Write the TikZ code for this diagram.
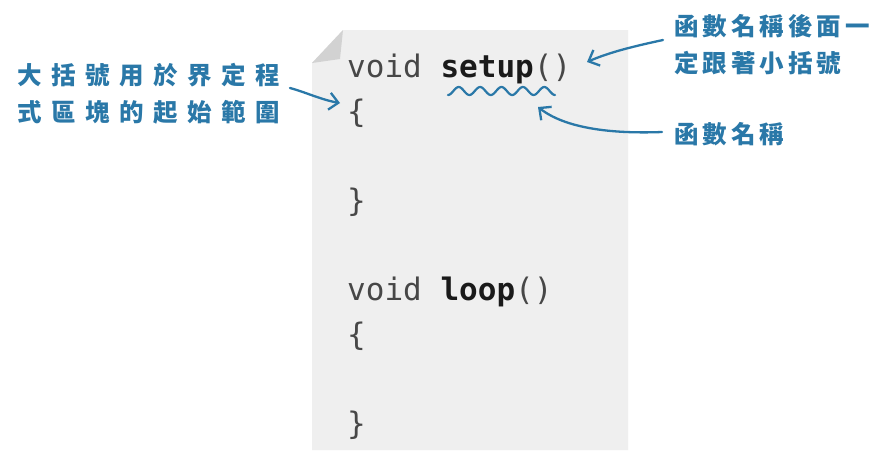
\documentclass[tikz,border=0pt]{standalone}
\usepackage{fontspec}
\newfontfamily\codefont{DejaVu Sans Mono}
\newfontfamily\cjk{Noto Sans CJK TC}
\usetikzlibrary{arrows.meta}
\definecolor{anno}{HTML}{2A78A8}
\definecolor{page}{HTML}{EFEFEF}
\definecolor{fold}{HTML}{D2D2D2}
\definecolor{codegray}{HTML}{474747}
\definecolor{codedark}{HTML}{1A1A1A}
\newlength\chpitch
\def\sprloop#1{\ifx#1\relax\else\makebox[\chpitch][l]{#1}\expandafter\sprloop\fi}
\newcommand\spreadtext[2]{\setlength\chpitch{#1}\sprloop #2\relax}
\tikzset{
  code/.style={anchor=base west,inner sep=0pt,text=codegray,
    font=\codefont\fontsize{31}{31}\selectfont},
  annot/.style={anchor=base west,inner sep=0pt,text=anno,
    font=\cjk\bfseries\fontsize{24.5}{24.5}\selectfont},
  pointer/.style={draw=anno,line width=2.3pt,line cap=round,
    -{Straight Barb[length=9pt,width=17pt,line width=2.3pt]}}
}
\begin{document}
\begin{tikzpicture}[x=1pt,y=-1pt]
\useasboundingbox (0,0) rectangle (885,451);
\fill[white] (0,0) rectangle (885,451);
% page
\fill[page] (343,30) -- (628,30) -- (628,450) -- (312,450) -- (312,63) -- cycle;
\fill[fold] (343,30) -- (312,63) -- (340,59) -- cycle;
% code
\node[code] (l1) at (347,77) {void \textcolor{codedark}{\textbf{setup}}()};
\node[code] (b1) at (347,122) {\{};
\node[code] (e1) at (347,211) {\}};
\node[code] (l2) at (347,300) {void \textcolor{codedark}{\textbf{loop}}()};
\node[code] (b2) at (347,345) {\{};
\node[code] (e2) at (347,434) {\}};
% squiggle under setup
\draw[anno,line width=2.2pt,line cap=round] plot[domain=0:107,samples=90,smooth]
  ({448+\x},{91+4*cos(16.822*\x)});
% annotations
\node[annot] (left1) at (17,84) {\spreadtext{34pt}{大括號用於界定程}};
\node[annot] (left2) at (17,121) {\spreadtext{34pt}{式區塊的起始範圍}};
\node[annot] (tr1) at (674,35) {\spreadtext{28.5pt}{函數名稱後面一}};
\node[annot] (tr2) at (674,72) {\spreadtext{28.5pt}{定跟著小括號}};
\node[annot] (br1) at (674,143) {\spreadtext{28.5pt}{函數名稱}};
% arrow end points
\coordinate (lt) at (290,88);
\coordinate (lh) at (340,103);
\coordinate (tt) at (663,40);
\coordinate (th) at (587,62);
\coordinate (bt) at (662,132);
\coordinate (bh) at (538,107);
\draw[pointer] (lt) .. controls (305,92) and (322,100) .. (lh);
\draw[pointer] (tt) .. controls (635,46) and (610,52) .. (th);
\draw[pointer] (bt) .. controls (610,134) and (565,128) .. (bh);
\end{tikzpicture}
\end{document}
